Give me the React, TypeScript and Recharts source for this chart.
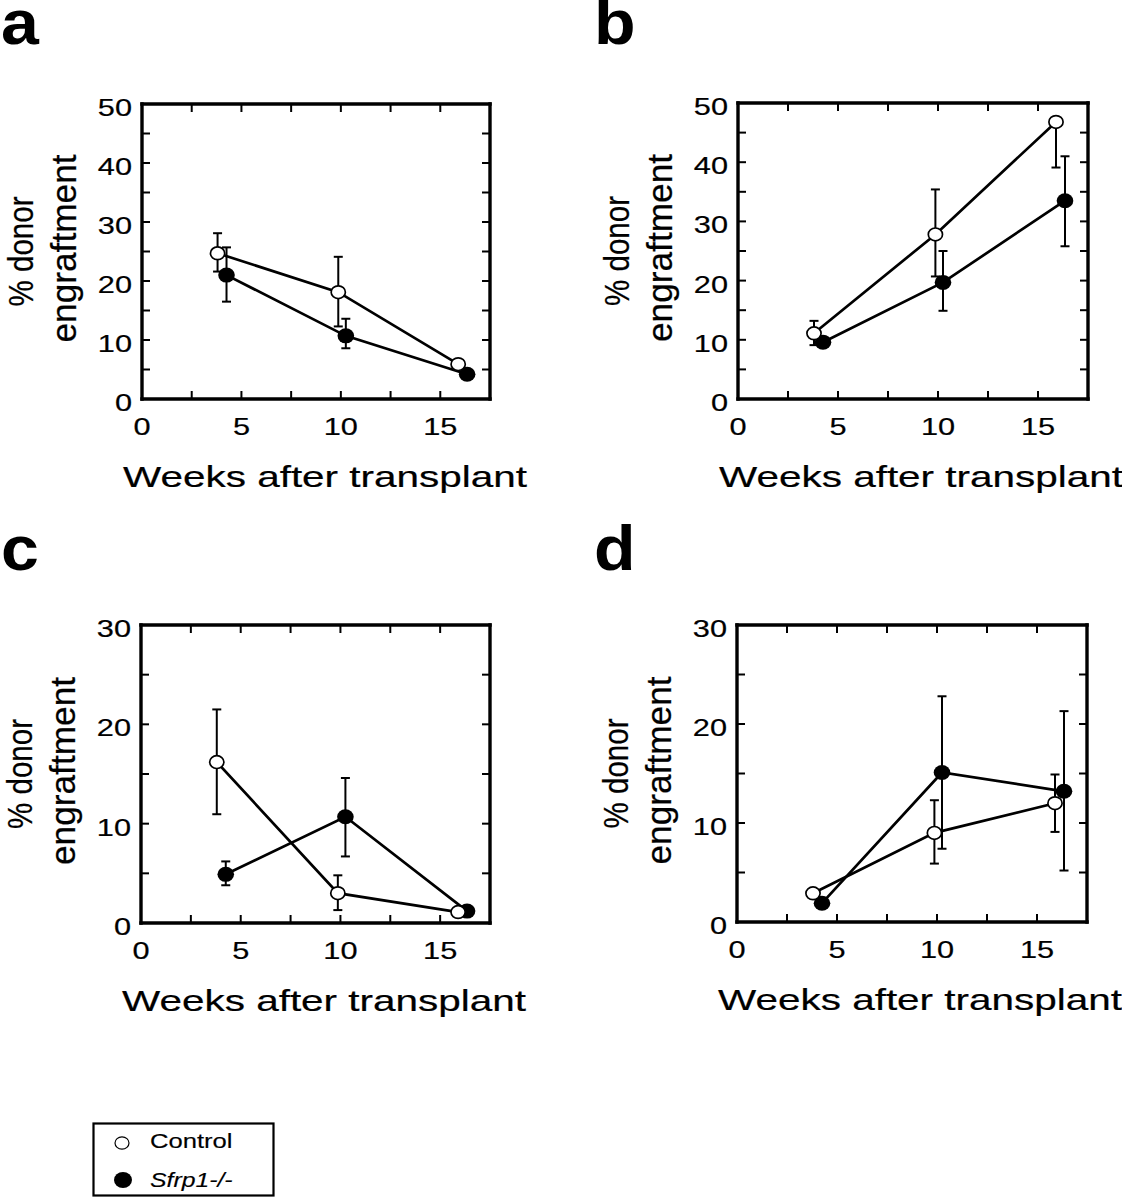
import React from "react";
import { LineChart, Line, XAxis, YAxis, ErrorBar } from "recharts";

// weeks after transplant (control points sit a little left, Sfrp1-/- a little right)
const controlWeeks = [3.8, 9.87, 15.9];
const sfrpWeeks = [4.25, 10.25, 16.35];

const xTicks = [0, 2.5, 5, 7.5, 10, 12.5, 15, 17.5];
const yTicks50 = [0, 5, 10, 15, 20, 25, 30, 35, 40, 45, 50];
const yTicks30 = [0, 5, 10, 15, 20, 25, 30];

// error values are [minus, plus]
const aControl = [24.7, 18.1, 5.9];
const aControlErr = [[3.1, 3.4], [5.8, 6.0], [0, 0]];
const aSfrp = [21.0, 10.7, 4.2];
const aSfrpErr = [[4.5, 4.7], [2.1, 2.9], [0, 0]];

const bControl = [11.1, 27.8, 46.8];
const bControlErr = [[2.0, 2.1], [7.1, 7.6], [7.7, 0]];
const bSfrp = [9.6, 19.7, 33.5];
const bSfrpErr = [[0, 0], [4.8, 5.3], [7.7, 7.5]];

const cControl = [16.2, 3.0, 1.1];
const cControlErr = [[5.25, 5.3], [1.7, 1.8], [0, 0]];
const cSfrp = [4.9, 10.7, 1.2];
const cSfrpErr = [[1.1, 1.3], [4.0, 3.9], [0, 0]];

const dControl = [2.9, 9.0, 12.0];
const dControlErr = [[0, 0], [3.1, 3.3], [2.9, 2.9]];
const dSfrp = [1.9, 15.1, 13.2];
const dSfrpErr = [[0, 0], [7.7, 7.7], [8.0, 8.1]];

const FONT = '"Liberation Sans", Arial, Helvetica, sans-serif';
const YW = 40;
const XH = 30;
const PAD_L = 142;
const PAD_T = 104;
const CW = 570;
const CH = 520;
const TXT = { fill: "#000", stroke: "#000", strokeWidth: 0.2, fontFamily: FONT };

const rows = (weeks: number[], vals: number[], errs: number[][]) =>
  weeks.map((w, i) => ({ week: w, value: vals[i], err: errs[i] }));

const makeDot = (filled: boolean) => (props: any) => {
  const { cx, cy, index } = props;
  if (cx == null || cy == null) return <g key={`d-${index}`} />;
  return (
    <ellipse
      key={`d-${index}`}
      cx={cx}
      cy={cy}
      rx={filled ? 8.3 : 7.1}
      ry={filled ? 7.5 : 6.4}
      fill={filled ? "#000" : "#fff"}
      stroke="#000"
      strokeWidth={filled ? 0 : 1.7}
    />
  );
};

const xTick = (side: "bottom" | "top") => (props: any) => {
  const { x, y, payload } = props;
  const v = payload.value;
  const dir = side === "bottom" ? -1 : 1;
  const inner = v > 0 && v < 17.5;
  return (
    <g>
      {inner && <line x1={x} x2={x} y1={y} y2={y + dir * 8} stroke="#000" strokeWidth={2} />}
      {side === "bottom" && v % 5 === 0 && (
        <text
          transform={`translate(${x},${y + 36}) scale(1.28,1)`}
          textAnchor="middle"
          fontSize={24}
          {...TXT}
        >
          {v}
        </text>
      )}
    </g>
  );
};

const yTick = (side: "left" | "right", max: number) => (props: any) => {
  const { x, y, payload } = props;
  const v = payload.value;
  const dir = side === "left" ? 1 : -1;
  const inner = v > 0 && v < max;
  return (
    <g>
      {inner && <line x1={x} x2={x + dir * 8} y1={y} y2={y} stroke="#000" strokeWidth={2} />}
      {side === "left" && v % 10 === 0 && (
        <text
          transform={`translate(${x - 10},${y + 12}) scale(1.28,1)`}
          textAnchor="end"
          fontSize={24}
          {...TXT}
        >
          {v}
        </text>
      )}
    </g>
  );
};

const xLabel = (props: any) => {
  const vb = props.viewBox || {};
  return (
    <text
      x={vb.x - 19}
      y={vb.y + 88}
      fontSize={30}
      textLength={404}
      lengthAdjust="spacingAndGlyphs"
      {...TXT}
    >
      Weeks after transplant
    </text>
  );
};

const yLabel = (props: any) => {
  const vb = props.viewBox || {};
  const axisX = vb.x + vb.width;
  const cy = vb.y + vb.height / 2;
  return (
    <g>
      <text
        transform={`translate(${axisX - 109},${cy}) scale(1.15,1) rotate(-90)`}
        textAnchor="middle"
        fontSize={31}
        textLength={110}
        lengthAdjust="spacingAndGlyphs"
        {...TXT}
      >
        % donor
      </text>
      <text
        transform={`translate(${axisX - 66},${cy - 3}) scale(1.15,1) rotate(-90)`}
        textAnchor="middle"
        fontSize={31}
        textLength={188}
        lengthAdjust="spacingAndGlyphs"
        {...TXT}
      >
        engraftment
      </text>
    </g>
  );
};

const frame = { stroke: "#000", strokeWidth: 3.4, strokeLinecap: "square" as const };

type PanelProps = {
  left: number;
  top: number;
  plotW: number;
  plotH: number;
  yMax: number;
  yTicks: number[];
  control: number[];
  controlErr: number[][];
  sfrp: number[];
  sfrpErr: number[][];
};

function Panel({ left, top, plotW, plotH, yMax, yTicks, control, controlErr, sfrp, sfrpErr }: PanelProps) {
  const margin = {
    left: PAD_L - YW,
    top: PAD_T - XH,
    right: CW - PAD_L - plotW - YW,
    bottom: CH - PAD_T - plotH - XH,
  };
  return (
    <div style={{ position: "absolute", left: left - PAD_L, top: top - PAD_T }}>
      <LineChart width={CW} height={CH} margin={margin}>
        <XAxis
          xAxisId="x"
          dataKey="week"
          type="number"
          domain={[0, 17.5]}
          ticks={xTicks}
          interval={0}
          allowDataOverflow
          height={XH}
          axisLine={frame}
          tickLine={false}
          tickSize={0}
          tickMargin={0}
          tick={xTick("bottom")}
          label={xLabel}
        />
        <XAxis
          xAxisId="top"
          orientation="top"
          dataKey="week"
          type="number"
          domain={[0, 17.5]}
          ticks={xTicks}
          interval={0}
          allowDataOverflow
          height={XH}
          axisLine={frame}
          tickLine={false}
          tickSize={0}
          tickMargin={0}
          tick={xTick("top")}
        />
        <YAxis
          yAxisId="y"
          type="number"
          domain={[0, yMax]}
          ticks={yTicks}
          interval={0}
          allowDataOverflow
          width={YW}
          axisLine={frame}
          tickLine={false}
          tickSize={0}
          tickMargin={0}
          tick={yTick("left", yMax)}
          label={yLabel}
        />
        <YAxis
          yAxisId="r"
          orientation="right"
          type="number"
          domain={[0, yMax]}
          ticks={yTicks}
          interval={0}
          allowDataOverflow
          width={YW}
          axisLine={frame}
          tickLine={false}
          tickSize={0}
          tickMargin={0}
          tick={yTick("right", yMax)}
        />
        <Line
          xAxisId="x"
          yAxisId="y"
          data={rows(sfrpWeeks, sfrp, sfrpErr)}
          dataKey="value"
          stroke="#000"
          strokeWidth={2.7}
          dot={makeDot(true)}
          activeDot={false}
          isAnimationActive={false}
        >
          <ErrorBar dataKey="err" direction="y" width={4.5} stroke="#000" strokeWidth={2} />
        </Line>
        <Line
          xAxisId="x"
          yAxisId="y"
          data={rows(controlWeeks, control, controlErr)}
          dataKey="value"
          stroke="#000"
          strokeWidth={2.7}
          dot={makeDot(false)}
          activeDot={false}
          isAnimationActive={false}
        >
          <ErrorBar dataKey="err" direction="y" width={4.5} stroke="#000" strokeWidth={2} />
        </Line>
      </LineChart>
    </div>
  );
}

const letter = (ch: string, x: number, y: number) => (
  <text
    transform={`translate(${x},${y}) scale(1.08,1)`}
    fontSize={63}
    fontWeight="bold"
    fontFamily={FONT}
    fill="#000"
  >
    {ch}
  </text>
);

export default function App() {
  return (
    <div
      style={{
        position: "absolute",
        left: 0,
        top: 0,
        width: 1122,
        height: 1197,
        overflow: "hidden",
        background: "#fff",
        fontFamily: FONT,
      }}
    >
      <svg width={1122} height={1197} style={{ position: "absolute", left: 0, top: 0 }}>
        {letter("a", 1, 44)}
        {letter("b", 594, 44)}
        {letter("c", 1, 570)}
        {letter("d", 594, 570)}
        <rect x={93.5} y={1123.5} width={180} height={72} fill="none" stroke="#000" strokeWidth={2.2} />
        <ellipse cx={122} cy={1143} rx={7} ry={6.2} fill="#fff" stroke="#000" strokeWidth={1.2} />
        <ellipse cx={123} cy={1180} rx={9} ry={8} fill="#000" />
        <text transform="translate(150,1148) scale(1.22,1)" fontSize={21} {...TXT} strokeWidth={0.15}>
          Control
        </text>
        <text
          transform="translate(150,1187) scale(1.18,1)"
          fontSize={21}
          fontStyle="italic"
          {...TXT}
          strokeWidth={0.15}
        >
          Sfrp1-/-
        </text>
      </svg>
      <Panel left={142} top={104} plotW={348} plotH={295} yMax={50} yTicks={yTicks50}
        control={aControl} controlErr={aControlErr} sfrp={aSfrp} sfrpErr={aSfrpErr} />
      <Panel left={738} top={103} plotW={350} plotH={296} yMax={50} yTicks={yTicks50}
        control={bControl} controlErr={bControlErr} sfrp={bSfrp} sfrpErr={bSfrpErr} />
      <Panel left={141} top={625} plotW={349} plotH={298} yMax={30} yTicks={yTicks30}
        control={cControl} controlErr={cControlErr} sfrp={cSfrp} sfrpErr={cSfrpErr} />
      <Panel left={737} top={625} plotW={350} plotH={297} yMax={30} yTicks={yTicks30}
        control={dControl} controlErr={dControlErr} sfrp={dSfrp} sfrpErr={dSfrpErr} />
    </div>
  );
}
